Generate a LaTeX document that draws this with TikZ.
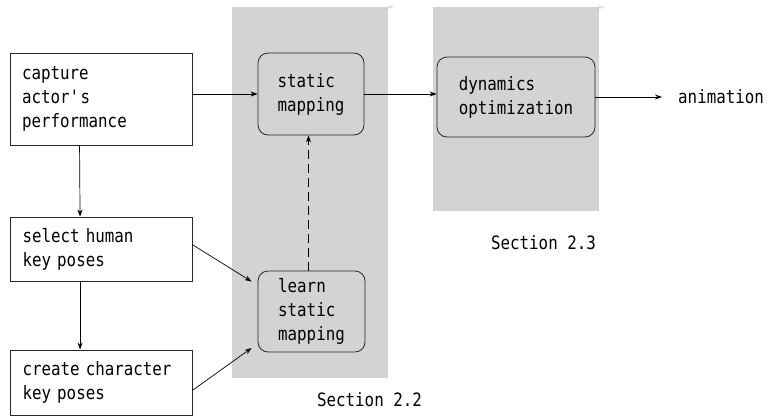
\documentclass[tikz,border=0pt]{standalone}
\usepackage{fontspec}
\setmainfont{DejaVu Sans Mono}[FakeStretch=0.86]
\usetikzlibrary{arrows.meta}
\definecolor{panelgray}{HTML}{D3D3D3}
\definecolor{edgegray}{HTML}{262626}
\begin{document}
\begin{tikzpicture}[x=1pt,y=-1pt,
  every node/.style={font=\fontsize{18.4}{24}\selectfont, text=black},
  panel/.style={fill=panelgray, draw=none},
  stagebox/.style={draw=edgegray, fill=white, line width=0.9pt, rectangle,
    inner sep=0pt, align=left, text width=158pt, minimum width=182pt},
  mapbox/.style={draw=edgegray, line width=0.8pt, rounded corners=10pt,
    inner sep=0pt, align=left},
  label/.style={inner sep=0pt},
  arr/.style={draw=black, line width=0.7pt, -{Stealth[length=7pt,width=5pt]}},
  dasharr/.style={arr, dash pattern=on 9pt off 5pt}
]
\useasboundingbox (0,0) rectangle (768,416);

% shaded section panels
\fill[panel] (232,7) rectangle (388,378);
\fill[panel] (433,7) rectangle (599,211);
\fill[panelgray!70] (388,5) -- (394,7) -- (388,9) -- cycle;
\fill[panelgray!70] (599,5) -- (605,7) -- (599,9) -- cycle;

% pipeline steps on the left
\node[stagebox, minimum height=92pt] (capture) at (101,99)
  {capture\\actor\textquotesingle s\\performance};
\node[stagebox, minimum height=64pt] (select) at (101.5,249)
  {select human\\key poses};
\node[stagebox, minimum height=65pt] (create) at (101.5,382.5)
  {create character\\key poses};

% mapping and optimization stages
\node[mapbox, minimum width=106pt, minimum height=82pt] (static) at (311,94)
  {static\\mapping};
\node[mapbox, minimum width=107pt, minimum height=81pt] (learn) at (311.5,311.5)
  {learn\\static\\mapping};
\node[mapbox, minimum width=158pt, minimum height=80pt] (dyn) at (516,97)
  {dynamics\\optimization};

\node[label, anchor=west] (anim) at (678,97) {animation};
\node[label] (sec22) at (369.5,400) {Section 2.2};
\node[label] (sec23) at (543.5,243) {Section 2.3};

% connectors
\draw[arr] (static.west -| capture.east) -- (static.west);
\draw[arr] (static.east) -- (static.east -| dyn.west);
\draw[arr] (dyn.east) -- ([xshift=-16pt]anim.west);
\draw[arr] ([xshift=70pt]capture.south west) -- ([xshift=70pt]select.north west);
\draw[arr] ([xshift=70pt]select.south west) -- ([xshift=70pt]create.north west);
\draw[arr] ([yshift=4pt]select.east) -- ([xshift=-6pt,yshift=30pt]learn.west);
\draw[arr] ([yshift=-7.5pt]create.east) -- ([xshift=-6pt,yshift=-36.5pt]learn.west);
\draw[dasharr] ([xshift=-3pt]learn.north) -- ([xshift=-3pt]learn.north |- static.south);
\end{tikzpicture}
\end{document}
